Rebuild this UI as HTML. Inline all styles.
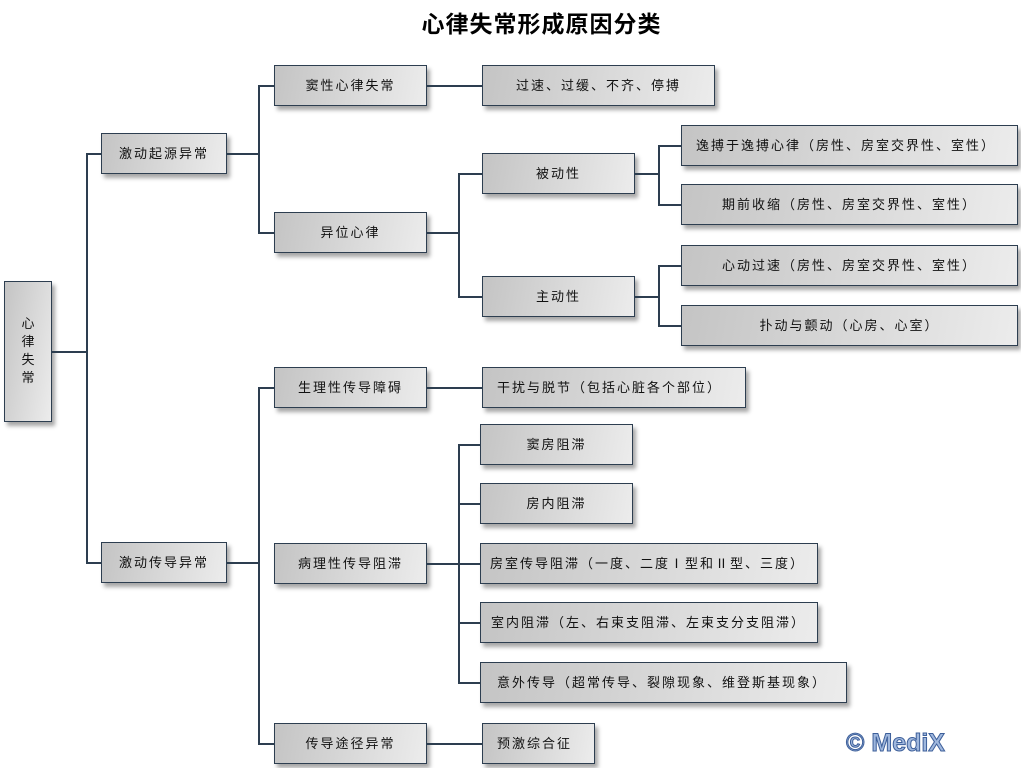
<!DOCTYPE html>
<html><head><meta charset="utf-8"><style>
body{margin:0;width:1021px;height:768px;background:#fff;position:relative;overflow:hidden;font-family:"Liberation Sans","Noto Sans CJK SC",sans-serif}
.b{position:absolute;box-sizing:border-box;border:1.5px solid #2d3e50;background:linear-gradient(100deg,#c4c4c4,#ececec);box-shadow:3px 4px 4px rgba(0,0,0,.35);display:flex;align-items:center;justify-content:center;font-size:13px;letter-spacing:2px;color:#111;white-space:nowrap;padding-bottom:2px}
.l{justify-content:flex-start;padding-left:14px}
.h,.v{position:absolute;background:#2d3e50}
.h{height:1.5px}.v{width:1.5px}
h1{position:absolute;left:0;width:1083px;top:5px;margin:0;text-align:center;font-size:23px;font-weight:bold;letter-spacing:1px}
.m{position:absolute;left:846px;top:729px;font:bold 25px "Liberation Sans",sans-serif;color:#9fb7dd;-webkit-text-stroke:1px #3d5f9a}
</style></head><body>
<h1>心律失常形成原因分类</h1>
<div class="b" style="left:4px;top:281px;width:48px;height:141px;flex-direction:column;letter-spacing:0;line-height:18px">心<br>律<br>失<br>常</div>
<div class="b" style="left:101px;top:133px;width:126px;height:41px">激动起源异常</div>
<div class="b" style="left:101px;top:542px;width:126px;height:41px">激动传导异常</div>
<div class="b" style="left:274px;top:65px;width:153px;height:41px">窦性心律失常</div>
<div class="b" style="left:274px;top:212px;width:153px;height:41px">异位心律</div>
<div class="b" style="left:482px;top:65px;width:233px;height:41px">过速、过缓、不齐、停搏</div>
<div class="b" style="left:482px;top:153px;width:153px;height:41px">被动性</div>
<div class="b" style="left:482px;top:276px;width:153px;height:41px">主动性</div>
<div class="b l" style="left:681px;top:125px;width:337px;height:41px">逸搏于逸搏心律（房性、房室交界性、室性）</div>
<div class="b" style="left:681px;top:184px;width:337px;height:41px">期前收缩（房性、房室交界性、室性）</div>
<div class="b" style="left:681px;top:245px;width:337px;height:41px">心动过速（房性、房室交界性、室性）</div>
<div class="b" style="left:681px;top:305px;width:337px;height:41px">扑动与颤动（心房、心室）</div>
<div class="b" style="left:274px;top:367px;width:153px;height:41px">生理性传导障碍</div>
<div class="b l" style="left:482px;top:367px;width:264px;height:41px">干扰与脱节（包括心脏各个部位）</div>
<div class="b" style="left:274px;top:543px;width:153px;height:41px">病理性传导阻滞</div>
<div class="b" style="left:480px;top:424px;width:153px;height:41px">窦房阻滞</div>
<div class="b" style="left:480px;top:483px;width:153px;height:41px">房内阻滞</div>
<div class="b l" style="left:480px;top:543px;width:338px;height:41px;padding-left:9px">房室传导阻滞（一度、二度Ⅰ型和Ⅱ型、三度）</div>
<div class="b l" style="left:480px;top:602px;width:338px;height:41px;padding-left:10px">室内阻滞（左、右束支阻滞、左束支分支阻滞）</div>
<div class="b l" style="left:480px;top:662px;width:367px;height:41px;padding-left:16px">意外传导（超常传导、裂隙现象、维登斯基现象）</div>
<div class="b" style="left:274px;top:723px;width:153px;height:41px">传导途径异常</div>
<div class="b l" style="left:482px;top:723px;width:113px;height:41px">预激综合征</div>

<div class="h" style="left:51px;top:351px;width:35px"></div>
<div class="v" style="left:86px;top:153px;height:410px"></div>
<div class="h" style="left:86px;top:153px;width:15px"></div>
<div class="h" style="left:86px;top:562px;width:15px"></div>
<div class="h" style="left:226px;top:153px;width:32px"></div>
<div class="v" style="left:258px;top:85px;height:148px"></div>
<div class="h" style="left:258px;top:85px;width:16px"></div>
<div class="h" style="left:258px;top:232px;width:16px"></div>
<div class="h" style="left:226px;top:562px;width:32px"></div>
<div class="v" style="left:258px;top:387px;height:357px"></div>
<div class="h" style="left:258px;top:387px;width:16px"></div>
<div class="h" style="left:258px;top:743px;width:16px"></div>
<div class="h" style="left:426px;top:85px;width:56px"></div>
<div class="h" style="left:426px;top:232px;width:32px"></div>
<div class="v" style="left:458px;top:173px;height:124px"></div>
<div class="h" style="left:458px;top:173px;width:24px"></div>
<div class="h" style="left:458px;top:296px;width:24px"></div>
<div class="h" style="left:634px;top:173px;width:24px"></div>
<div class="v" style="left:658px;top:145px;height:60px"></div>
<div class="h" style="left:658px;top:145px;width:23px"></div>
<div class="h" style="left:658px;top:204px;width:23px"></div>
<div class="h" style="left:634px;top:296px;width:24px"></div>
<div class="v" style="left:658px;top:265px;height:61px"></div>
<div class="h" style="left:658px;top:265px;width:23px"></div>
<div class="h" style="left:658px;top:325px;width:23px"></div>
<div class="h" style="left:426px;top:387px;width:56px"></div>
<div class="h" style="left:426px;top:743px;width:56px"></div>
<div class="h" style="left:426px;top:563px;width:32px"></div>
<div class="v" style="left:458px;top:444px;height:239px"></div>
<div class="h" style="left:458px;top:444px;width:22px"></div>
<div class="h" style="left:458px;top:503px;width:22px"></div>
<div class="h" style="left:458px;top:563px;width:22px"></div>
<div class="h" style="left:458px;top:622px;width:22px"></div>
<div class="h" style="left:458px;top:682px;width:22px"></div>
<div class="m">© MediX</div>
</body></html>
